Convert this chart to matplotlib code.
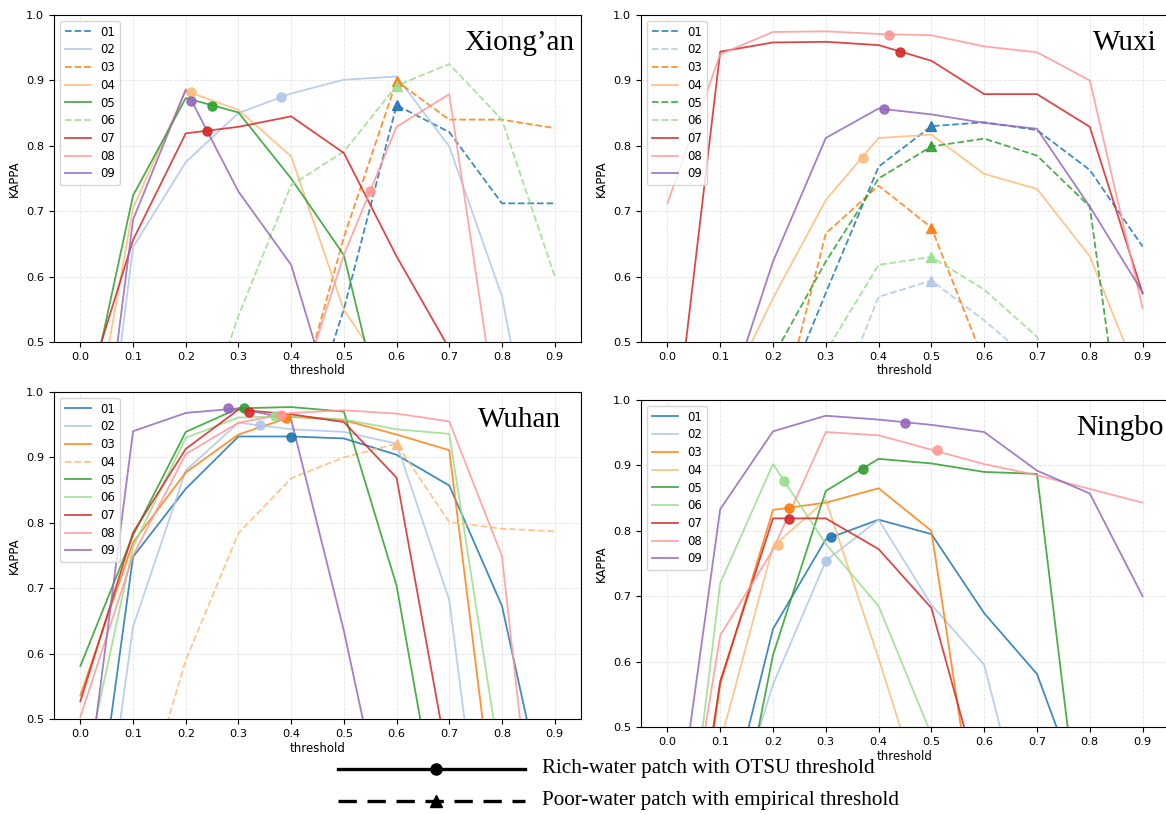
import numpy as np
import matplotlib
matplotlib.use("Agg")
import matplotlib.pyplot as plt
from matplotlib.lines import Line2D

# x axis (threshold) shared by all panels
thresholds = [0.0, 0.1, 0.2, 0.3, 0.4, 0.5, 0.6, 0.7, 0.8, 0.9]
patch_ids = ["01", "02", "03", "04", "05", "06", "07", "08", "09"]

# KAPPA per patch (rows = 01..09), values under 0.5 fall outside the view
xiongan_kappa = [
    [0.10, 0.15, 0.20, 0.25, 0.30, 0.55, 0.862, 0.821, 0.712, 0.712],
    [0.00, 0.645, 0.775, 0.850, 0.880, 0.901, 0.906, 0.799, 0.570, 0.15],
    [0.10, 0.15, 0.20, 0.25, 0.37, 0.66, 0.899, 0.840, 0.840, 0.827],
    [0.25, 0.705, 0.884, 0.855, 0.784, 0.549, 0.43, 0.30, 0.20, 0.10],
    [0.35, 0.724, 0.873, 0.851, 0.750, 0.633, 0.30, 0.20, 0.10, 0.05],
    [0.10, 0.15, 0.30, 0.54, 0.740, 0.791, 0.892, 0.925, 0.840, 0.601],
    [0.396, 0.656, 0.819, 0.829, 0.845, 0.789, 0.631, 0.49, 0.30, 0.20],
    [0.10, 0.15, 0.20, 0.25, 0.382, 0.633, 0.829, 0.879, 0.337, 0.20],
    [0.05, 0.687, 0.886, 0.730, 0.618, 0.35, 0.20, 0.15, 0.10, 0.05],
]
xiongan_poor = [1, 0, 1, 0, 0, 1, 0, 0, 0]
xiongan_best_t = [0.6, 0.38, 0.6, 0.21, 0.25, 0.6, 0.24, 0.55, 0.21]
xiongan_best_k = [0.862, 0.874, 0.899, 0.882, 0.861, 0.892, 0.823, 0.731, 0.869]

wuxi_kappa = [
    [0.10, 0.15, 0.377, 0.575, 0.768, 0.830, 0.836, 0.824, 0.763, 0.646],
    [0.05, 0.10, 0.25, 0.366, 0.569, 0.594, 0.533, 0.464, 0.35, 0.25],
    [0.05, 0.10, 0.346, 0.666, 0.739, 0.675, 0.47, 0.35, 0.25, 0.15],
    [0.20, 0.40, 0.567, 0.717, 0.812, 0.817, 0.757, 0.734, 0.631, 0.43],
    [0.10, 0.25, 0.477, 0.623, 0.750, 0.799, 0.811, 0.785, 0.707, 0.117],
    [0.05, 0.15, 0.30, 0.485, 0.618, 0.630, 0.580, 0.508, 0.30, 0.20],
    [0.26, 0.944, 0.958, 0.959, 0.954, 0.930, 0.879, 0.879, 0.829, 0.574],
    [0.712, 0.940, 0.974, 0.975, 0.971, 0.969, 0.952, 0.943, 0.900, 0.552],
    [0.10, 0.377, 0.623, 0.812, 0.857, 0.848, 0.835, 0.826, 0.707, 0.576],
]
wuxi_poor = [1, 1, 1, 0, 1, 1, 0, 0, 0]
wuxi_best_t = [0.5, 0.5, 0.5, 0.37, 0.5, 0.5, 0.44, 0.42, 0.41]
wuxi_best_k = [0.830, 0.594, 0.675, 0.782, 0.799, 0.630, 0.944, 0.970, 0.857]

wuhan_kappa = [
    [0.158, 0.748, 0.852, 0.932, 0.932, 0.929, 0.904, 0.857, 0.673, 0.305],
    [0.05, 0.641, 0.880, 0.953, 0.943, 0.939, 0.921, 0.682, 0.05, 0.0],
    [0.536, 0.770, 0.877, 0.935, 0.962, 0.957, 0.935, 0.911, 0.26, 0.15],
    [0.10, 0.318, 0.590, 0.784, 0.868, 0.900, 0.921, 0.801, 0.791, 0.787],
    [0.581, 0.781, 0.939, 0.975, 0.977, 0.970, 0.704, 0.25, 0.15, 0.10],
    [0.39, 0.763, 0.930, 0.961, 0.963, 0.958, 0.943, 0.936, 0.417, 0.20],
    [0.527, 0.785, 0.913, 0.973, 0.966, 0.954, 0.869, 0.424, 0.25, 0.15],
    [0.503, 0.750, 0.905, 0.953, 0.968, 0.972, 0.967, 0.955, 0.749, 0.02],
    [0.31, 0.940, 0.968, 0.975, 0.958, 0.635, 0.26, 0.15, 0.10, 0.05],
]
wuhan_poor = [0, 0, 0, 1, 0, 0, 0, 0, 0]
wuhan_best_t = [0.40, 0.34, 0.39, 0.6, 0.31, 0.37, 0.32, 0.38, 0.28]
wuhan_best_k = [0.931, 0.949, 0.960, 0.921, 0.975, 0.963, 0.970, 0.965, 0.975]

ningbo_kappa = [
    [0.10, 0.324, 0.650, 0.787, 0.817, 0.795, 0.674, 0.581, 0.362, 0.20],
    [0.05, 0.305, 0.565, 0.754, 0.817, 0.687, 0.595, 0.278, 0.15, 0.10],
    [0.0, 0.565, 0.832, 0.843, 0.865, 0.800, 0.264, 0.15, 0.10, 0.05],
    [0.05, 0.476, 0.776, 0.847, 0.605, 0.349, 0.20, 0.10, 0.05, 0.0],
    [0.05, 0.203, 0.610, 0.861, 0.910, 0.903, 0.890, 0.887, 0.22, 0.10],
    [0.053, 0.720, 0.902, 0.780, 0.685, 0.488, 0.30, 0.20, 0.10, 0.05],
    [0.03, 0.570, 0.819, 0.819, 0.772, 0.682, 0.388, 0.25, 0.15, 0.10],
    [0.14, 0.640, 0.771, 0.951, 0.946, 0.924, 0.902, 0.885, 0.864, 0.843],
    [0.249, 0.833, 0.952, 0.976, 0.970, 0.962, 0.951, 0.892, 0.857, 0.700],
]
ningbo_poor = [0, 0, 0, 0, 0, 0, 0, 0, 0]
ningbo_best_t = [0.31, 0.30, 0.23, 0.21, 0.37, 0.22, 0.23, 0.51, 0.45]
ningbo_best_k = [0.791, 0.754, 0.835, 0.779, 0.895, 0.876, 0.818, 0.924, 0.965]

colors = plt.get_cmap("tab20").colors[:9]

W, H = 1166, 814


def px_axes(left, top, right, bottom):
    # pixel box -> figure fraction
    return [left / W, 1 - bottom / H, (right - left) / W, (bottom - top) / H]


def draw_panel(ax, name, kappa, poor, best_t, best_k, name_x):
    for i in range(len(patch_ids)):
        ls = "--" if poor[i] else "-"
        ax.plot(thresholds, kappa[i], ls, color=colors[i], lw=1.3, alpha=0.85,
                label=patch_ids[i], zorder=2)
        ax.plot(best_t[i], best_k[i], "^" if poor[i] else "o", color=colors[i],
                ms=6.5, alpha=0.9, zorder=3)
    ax.set_xlim(-0.05, 0.95)
    ax.set_ylim(0.5, 1.0)
    ax.set_xticks(thresholds)
    ax.set_yticks([0.5, 0.6, 0.7, 0.8, 0.9, 1.0])
    ax.tick_params(labelsize=8.2)
    ax.grid(True, linestyle="--", linewidth=0.6, alpha=0.35)
    ax.set_xlabel("threshold", fontsize=8.5, labelpad=2)
    ax.set_ylabel("KAPPA", fontsize=8.5)
    ax.legend(loc="upper left", fontsize=8.5, labelspacing=0.4, handlelength=2.2)
    ax.text(name_x, 0.955, name, transform=ax.transAxes, ha="right", va="top",
            fontsize=21, family="Liberation Serif")


fig = plt.figure(figsize=(W / 100, H / 100), dpi=100)

ax1 = fig.add_axes(px_axes(54, 15, 581, 342))
ax2 = fig.add_axes(px_axes(641, 15, 1169, 342))
ax3 = fig.add_axes(px_axes(54, 392, 581, 719))
ax4 = fig.add_axes(px_axes(641, 400, 1169, 727))

draw_panel(ax1, "Xiong\u2019an", xiongan_kappa, xiongan_poor, xiongan_best_t, xiongan_best_k, 0.987)
draw_panel(ax2, "Wuxi", wuxi_kappa, wuxi_poor, wuxi_best_t, wuxi_best_k, 0.977)
draw_panel(ax3, "Wuhan", wuhan_kappa, wuhan_poor, wuhan_best_t, wuhan_best_k, 0.962)
draw_panel(ax4, "Ningbo", ningbo_kappa, ningbo_poor, ningbo_best_t, ningbo_best_k, 0.99)

# shared legend for the marker meaning, drawn at the bottom of the figure
x0, x1, xm = 338 / W, 525 / W, 436 / W
y_rich, y_poor = 1 - 769 / H, 1 - 801 / H
fig.add_artist(Line2D([x0, x1], [y_rich, y_rich], transform=fig.transFigure,
                      color="black", lw=2.4))
fig.add_artist(Line2D([xm], [y_rich], transform=fig.transFigure, marker="o",
                      color="black", ms=8))
fig.add_artist(Line2D([x0, x1], [y_poor, y_poor], transform=fig.transFigure,
                      color="black", lw=2.4, linestyle=(0, (5.5, 3.2))))
fig.add_artist(Line2D([xm], [y_poor], transform=fig.transFigure, marker="^",
                      color="black", ms=8))
fig.text(542 / W, y_rich, "Rich-water patch with OTSU threshold", va="center",
         fontsize=15.2, family="Liberation Serif")
fig.text(542 / W, y_poor, "Poor-water patch with empirical threshold", va="center",
         fontsize=15.2, family="Liberation Serif")

fig.savefig("out.png", dpi=100)
